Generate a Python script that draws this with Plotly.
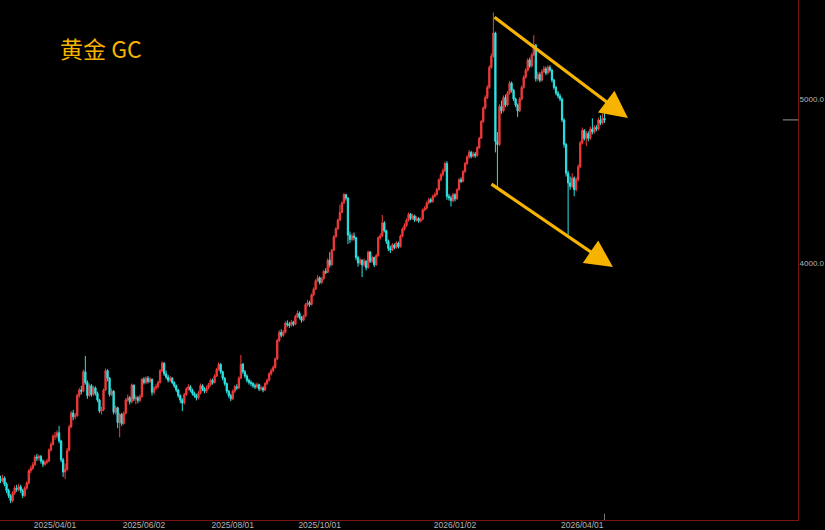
import math

import pandas as pd
import plotly.graph_objects as go

# ── data: daily GC candles, 2025/02/21 → 2026/04/16 (trading days) ────────────
first_day  = "2025-02-21"
first_open = 2980

close_px = [
    2975, 2985, 2960, 2935, 2915, 2895, 2925, 2945, 2940, 2950,
    2935, 2915, 2945, 2965, 3015, 3025, 3040, 3072, 3068, 3075,
    3055, 3042, 3050, 3055, 3102, 3125, 3160, 3160, 3175, 3140,
    3060, 3010, 3020, 3100, 3200, 3262, 3245, 3250, 3340, 3365,
    3360, 3450, 3400, 3340, 3385, 3345, 3375, 3350, 3320, 3270,
    3275, 3365, 3455, 3420, 3345, 3360, 3265, 3285, 3220, 3255,
    3215, 3260, 3320, 3330, 3312, 3388, 3325, 3330, 3318, 3335,
    3415, 3400, 3420, 3405, 3415, 3355, 3375, 3380, 3400, 3455,
    3490, 3440, 3425, 3410, 3420, 3400, 3385, 3365, 3340, 3320,
    3306, 3345, 3370, 3380, 3365, 3350, 3340, 3330, 3350, 3385,
    3370, 3360, 3375, 3390, 3410, 3400, 3430, 3460, 3485, 3450,
    3420, 3395, 3360, 3340, 3325, 3360, 3380, 3375, 3420, 3485,
    3450, 3430, 3410, 3400, 3395, 3385, 3380, 3390, 3370, 3375,
    3365, 3395, 3410, 3440, 3455, 3470, 3510, 3600, 3640, 3625,
    3640, 3685, 3680, 3675, 3690, 3680, 3720, 3735, 3715, 3700,
    3720, 3780, 3790, 3780, 3830, 3860, 3905, 3920, 3895, 3915,
    3955, 3950, 4015, 3990, 4070, 4145, 4190, 4240, 4285, 4340,
    4390, 4370, 4155, 4130, 4150, 4140, 4030, 4000, 4016, 3990,
    4010, 3975, 4060, 4010, 4030, 3990, 4040, 4140, 4150, 4224,
    4180, 4120, 4080, 4071, 4100, 4085, 4110, 4090, 4150, 4190,
    4210, 4240, 4275, 4250, 4265, 4240, 4250, 4235, 4245, 4300,
    4310, 4340, 4360, 4350, 4380, 4390, 4420, 4480, 4510, 4535,
    4580, 4380, 4370, 4355, 4390, 4365, 4420, 4480, 4470, 4530,
    4580, 4620, 4650, 4625, 4640, 4630, 4680, 4740, 4850, 4940,
    5010, 5080, 5220, 5300, 5470, 4720, 4700, 4950, 4920, 5010,
    4960, 5040, 5110, 5060, 5000, 4960, 4920, 5000, 5080, 5150,
    5200, 5272, 5230, 5310, 5380, 5140, 5170, 5130, 5190, 5210,
    5180, 5220, 5200, 5130, 5080, 5040, 5020, 5000, 4860, 4700,
    4520, 4460, 4440, 4490, 4420, 4480, 4560, 4710, 4790, 4740,
    4770, 4740, 4800, 4780, 4810, 4800, 4860, 4840, 4870, 4860,
]

high_px = [
    2995, 2998, 2992, 2968, 2942, 2920, 2932, 2955, 2958, 2962,
    2958, 2942, 2952, 2972, 3022, 3035, 3050, 3080, 3085, 3082,
    3080, 3062, 3058, 3065, 3108, 3135, 3168, 3178, 3185, 3205,
    3145, 3068, 3045, 3110, 3210, 3270, 3275, 3262, 3348, 3375,
    3385, 3460, 3525, 3410, 3395, 3392, 3385, 3382, 3358, 3325,
    3290, 3372, 3465, 3462, 3425, 3372, 3365, 3295, 3290, 3262,
    3262, 3268, 3328, 3345, 3338, 3395, 3390, 3342, 3338, 3345,
    3420, 3425, 3428, 3430, 3425, 3418, 3382, 3392, 3408, 3462,
    3500, 3495, 3455, 3435, 3430, 3425, 3405, 3390, 3370, 3345,
    3328, 3352, 3378, 3392, 3388, 3372, 3358, 3348, 3360, 3395,
    3392, 3378, 3385, 3398, 3418, 3418, 3438, 3468, 3495, 3490,
    3455, 3425, 3400, 3365, 3348, 3368, 3388, 3392, 3428, 3530,
    3492, 3458, 3438, 3418, 3410, 3402, 3395, 3400, 3395, 3385,
    3382, 3402, 3418, 3448, 3465, 3480, 3518, 3608, 3650, 3655,
    3652, 3695, 3700, 3692, 3702, 3698, 3728, 3750, 3745, 3722,
    3728, 3788, 3805, 3800, 3838, 3870, 3912, 3935, 3928, 3925,
    3962, 3972, 4025, 4060, 4078, 4155, 4200, 4250, 4330, 4350,
    4400, 4395, 4375, 4175, 4165, 4170, 4145, 4040, 4030, 4020,
    4025, 4015, 4068, 4065, 4040, 4035, 4050, 4148, 4165, 4270,
    4235, 4185, 4130, 4095, 4110, 4108, 4120, 4118, 4158, 4198,
    4222, 4250, 4285, 4282, 4278, 4272, 4262, 4258, 4255, 4308,
    4322, 4350, 4372, 4370, 4390, 4402, 4430, 4488, 4522, 4548,
    4590, 4595, 4395, 4385, 4400, 4398, 4428, 4490, 4495, 4540,
    4590, 4632, 4665, 4660, 4655, 4652, 4690, 4750, 4860, 4950,
    5025, 5095, 5235, 5320, 5625, 5480, 4780, 4965, 4990, 5025,
    5030, 5055, 5125, 5120, 5070, 5010, 4970, 5012, 5092, 5165,
    5215, 5285, 5290, 5325, 5455, 5390, 5190, 5185, 5205, 5230,
    5225, 5235, 5235, 5210, 5140, 5090, 5055, 5035, 5010, 4870,
    4710, 4535, 4500, 4520, 4500, 4495, 4575, 4722, 4810, 4800,
    4785, 4785, 4815, 4870, 4825, 4825, 4875, 4890, 4900, 4905,
]

low_px = [
    2965, 2968, 2952, 2925, 2905, 2885, 2888, 2918, 2930, 2932,
    2925, 2905, 2910, 2938, 2960, 3005, 3018, 3035, 3055, 3058,
    3045, 3030, 3035, 3042, 3050, 3095, 3120, 3145, 3150, 3130,
    3050, 2990, 2982, 3015, 3095, 3195, 3230, 3235, 3245, 3330,
    3345, 3355, 3390, 3325, 3335, 3335, 3338, 3340, 3310, 3262,
    3255, 3270, 3360, 3405, 3335, 3338, 3255, 3255, 3195, 3155,
    3205, 3210, 3255, 3312, 3300, 3305, 3315, 3300, 3305, 3310,
    3330, 3390, 3392, 3395, 3398, 3340, 3345, 3365, 3372, 3395,
    3448, 3430, 3415, 3400, 3402, 3392, 3375, 3355, 3330, 3305,
    3270, 3300, 3338, 3362, 3355, 3340, 3330, 3318, 3322, 3345,
    3360, 3350, 3352, 3368, 3382, 3390, 3395, 3425, 3455, 3440,
    3410, 3385, 3350, 3330, 3315, 3320, 3352, 3365, 3370, 3415,
    3440, 3420, 3400, 3390, 3382, 3375, 3370, 3372, 3360, 3362,
    3355, 3360, 3388, 3405, 3432, 3448, 3465, 3505, 3592, 3615,
    3618, 3635, 3668, 3662, 3668, 3670, 3675, 3712, 3705, 3688,
    3695, 3715, 3770, 3768, 3775, 3822, 3855, 3898, 3885, 3888,
    3910, 3940, 3945, 3975, 3985, 4065, 4140, 4185, 4235, 4280,
    4335, 4355, 4105, 4110, 4120, 4125, 4015, 3980, 3990, 3924,
    3980, 3960, 3970, 4000, 4000, 3978, 3985, 4035, 4130, 4145,
    4170, 4105, 4065, 4055, 4065, 4075, 4078, 4080, 4085, 4142,
    4180, 4202, 4232, 4240, 4242, 4230, 4232, 4225, 4228, 4240,
    4292, 4302, 4332, 4340, 4342, 4372, 4385, 4415, 4470, 4500,
    4528, 4360, 4355, 4320, 4345, 4350, 4360, 4415, 4460, 4465,
    4522, 4572, 4610, 4612, 4618, 4615, 4622, 4672, 4735, 4840,
    4930, 5000, 5070, 5210, 5290, 4650, 4435, 4690, 4900, 4910,
    4945, 4950, 5030, 5045, 4985, 4945, 4880, 4912, 4990, 5070,
    5140, 5190, 5215, 5220, 5300, 5120, 5125, 5115, 5120, 5180,
    5165, 5170, 5185, 5115, 5065, 5025, 5005, 4985, 4845, 4680,
    4500, 4155, 4420, 4430, 4380, 4410, 4470, 4550, 4700, 4725,
    4690, 4720, 4730, 4765, 4770, 4785, 4790, 4825, 4830, 4840,
]

tick_dates = ["2025/04/01", "2025/06/02", "2025/08/01",
              "2025/10/01", "2026/01/02", "2026/04/01"]
price_ticks = [4000, 5000]
price_tick_text = ["4000.0", "5000.0"]

# channel arrows: (start bar, start price) -> (end bar, end price)
upper_arrow = (243.8, 5598, 310.6, 4872)
lower_arrow = (242.3, 4460, 303.2, 3978)

# ── build ─────────────────────────────────────────────────────────────────────
dates   = pd.bdate_range(first_day, periods=len(close_px)).strftime("%Y/%m/%d").tolist()
open_px = [first_open] + close_px[:-1]
high_px = [max(h, o, c) for h, o, c in zip(high_px, open_px, close_px)]
low_px  = [min(l, o, c) for l, o, c in zip(low_px, open_px, close_px)]

UP, DOWN = "#f23b3b", "#2fe3e3"
GOLD     = "#f6b400"
FRAME    = "#7d1414"
AXIS_TXT = "#b4b4b4"
TICK_FONT = "Liberation Sans, Arial, sans-serif"

fig = go.Figure(go.Candlestick(
    x=dates, open=open_px, high=high_px, low=low_px, close=close_px,
    increasing=dict(line=dict(color=UP, width=1), fillcolor=UP),
    decreasing=dict(line=dict(color=DOWN, width=1), fillcolor=DOWN),
    whiskerwidth=0,
    hoverinfo="x+y",
))

for x0, p0, x1, p1 in (upper_arrow, lower_arrow):
    fig.add_annotation(
        x=x1, y=math.log10(p1), ax=x0, ay=math.log10(p0),
        xref="x", yref="y", axref="x", ayref="y",
        text="", showarrow=True,
        arrowhead=2, arrowsize=1.7, arrowwidth=3.2, arrowcolor=GOLD, standoff=0,
    )

fig.add_annotation(
    text="黄金 GC", xref="paper", yref="paper", x=0.073, y=0.907,
    xanchor="left", yanchor="middle", showarrow=False,
    font=dict(family="Noto Sans CJK SC, Noto Sans, sans-serif", size=23, color=GOLD),
)

# last price marker on the axis + last bar marker at the bottom
fig.add_shape(type="line", xref="paper", yref="y", x0=0.981, x1=1.0,
              y0=close_px[-1], y1=close_px[-1], line=dict(color="#9a9a9a", width=1))
fig.add_shape(type="line", xref="x", yref="paper", x0=len(dates) - 1, x1=len(dates) - 1,
              y0=0, y1=0.012, line=dict(color="#7a7a7a", width=1))

fig.update_layout(
    width=825, height=530,
    margin=dict(l=0, r=27, t=0, b=10),
    paper_bgcolor="black", plot_bgcolor="black",
    showlegend=False,
    boxgap=0.1,
    font=dict(family=TICK_FONT, size=9, color=AXIS_TXT),
    xaxis=dict(
        type="category", range=[-0.25, 394.8],
        tickvals=tick_dates, ticktext=tick_dates, tickangle=0,
        showgrid=False, zeroline=False, ticks="",
        showline=True, linecolor=FRAME, linewidth=1,
        tickfont=dict(family=TICK_FONT, size=8.5, color=AXIS_TXT),
        ticklabelstandoff=-3,
        rangeslider=dict(visible=False), automargin=False,
    ),
    yaxis=dict(
        type="log", side="right", range=[3.4502, 3.7575],
        tickvals=price_ticks, ticktext=price_tick_text,
        showgrid=False, zeroline=False, ticks="",
        showline=True, linecolor=FRAME, linewidth=1,
        tickfont=dict(family=TICK_FONT, size=8, color=AXIS_TXT),
        ticklabelstandoff=-1,
        automargin=False,
    ),
)

# page body has a default 8px margin; drop it so the chart fills the window
fig.write_html("out.html",
               config={"displayModeBar": False},
               post_script="document.body.style.margin='0';document.body.style.overflow='hidden';")
